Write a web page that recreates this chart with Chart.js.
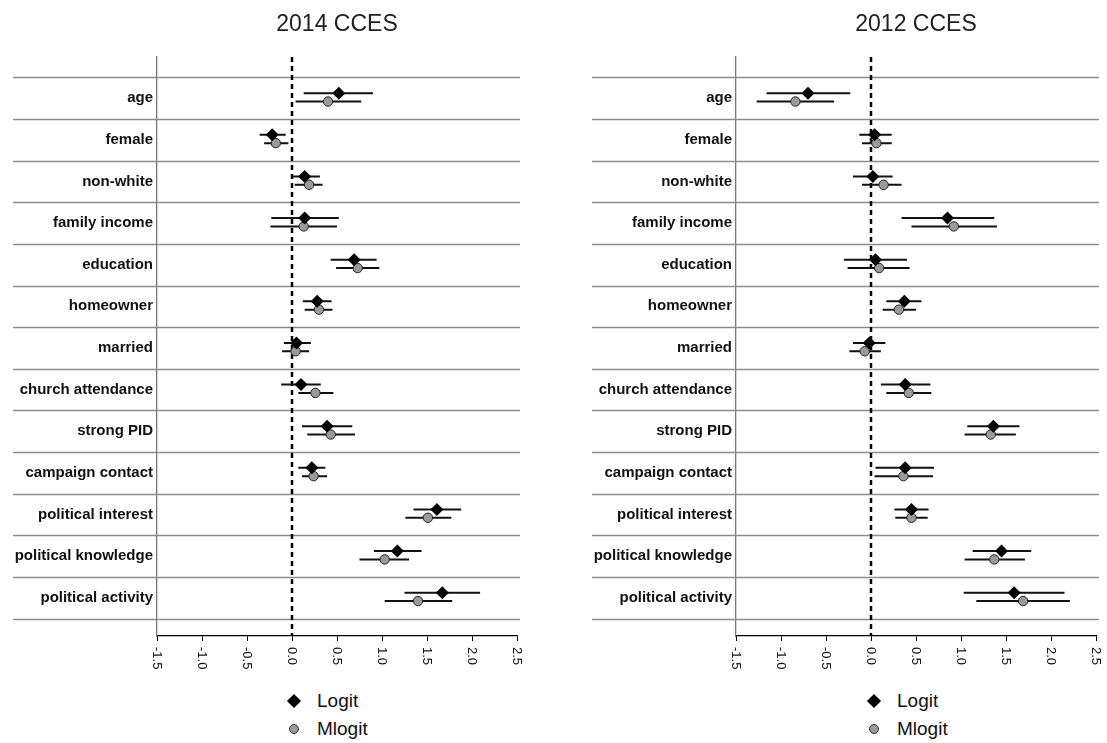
<!DOCTYPE html>
<html>
<head>
<meta charset="utf-8">
<script src="https://cdn.jsdelivr.net/npm/chart.js@4.4.0/dist/chart.umd.min.js"></script>
<style>
  body { margin: 0; width: 1107px; height: 743px; overflow: hidden; background: #fff; font-family: "Liberation Sans", Arial, sans-serif; position: relative; }
  .panel { position: absolute; top: 0; width: 579px; height: 690px; }
  .legend { position: absolute; font-size: 19px; color: #111; line-height: 20px; }
  .legend .row { position: absolute; left: 0; white-space: nowrap; }
  .legend .txt { position: absolute; left: 23px; top: 0; }
  .diamond { position: absolute; width: 10px; height: 10px; background: #000; transform: rotate(45deg); left: -5px; top: 5px; }
  .dot { position: absolute; width: 8px; height: 8px; background: #9a9a9a; border: 1px solid #333; border-radius: 50%; left: -5px; top: 5px; }
</style>
</head>
<body>
<div class="panel" style="left:0"><canvas id="chart2014" width="579" height="690"></canvas></div>
<div class="panel" style="left:579px"><canvas id="chart2012" width="579" height="690"></canvas></div>

<div class="legend" style="left:294px; top:691px">
  <div class="row" style="top:0"><span class="diamond"></span><span class="txt">Logit</span></div>
  <div class="row" style="top:28px"><span class="dot"></span><span class="txt">Mlogit</span></div>
</div>
<div class="legend" style="left:874px; top:691px">
  <div class="row" style="top:0"><span class="diamond"></span><span class="txt">Logit</span></div>
  <div class="row" style="top:28px"><span class="dot"></span><span class="txt">Mlogit</span></div>
</div>

<script>
var categories = ["age", "female", "non-white", "family income", "education", "homeowner", "married",
  "church attendance", "strong PID", "campaign contact", "political interest", "political knowledge", "political activity"];
var xTicks = [-1.5, -1.0, -0.5, 0.0, 0.5, 1.0, 1.5, 2.0, 2.5];

// 2014 CCES
var logit2014 = [0.52, -0.22, 0.14, 0.14, 0.69, 0.28, 0.05, 0.10, 0.39, 0.22, 1.61, 1.17, 1.67];
var logitLo2014 = [0.13, -0.36, 0.00, -0.23, 0.43, 0.12, -0.09, -0.12, 0.11, 0.07, 1.35, 0.91, 1.25];
var logitHi2014 = [0.90, -0.07, 0.31, 0.52, 0.94, 0.44, 0.21, 0.32, 0.67, 0.37, 1.88, 1.44, 2.09];
var mlogit2014 = [0.40, -0.18, 0.19, 0.13, 0.73, 0.30, 0.04, 0.26, 0.43, 0.24, 1.51, 1.03, 1.40];
var mlogitLo2014 = [0.04, -0.31, 0.03, -0.24, 0.49, 0.14, -0.11, 0.07, 0.17, 0.11, 1.26, 0.75, 1.03];
var mlogitHi2014 = [0.77, -0.04, 0.34, 0.50, 0.97, 0.45, 0.19, 0.46, 0.70, 0.39, 1.77, 1.30, 1.78];

// 2012 CCES
var logit2012 = [-0.70, 0.04, 0.02, 0.85, 0.05, 0.37, -0.02, 0.38, 1.36, 0.38, 0.45, 1.45, 1.59];
var logitLo2012 = [-1.16, -0.13, -0.20, 0.34, -0.30, 0.17, -0.20, 0.11, 1.07, 0.05, 0.26, 1.13, 1.03];
var logitHi2012 = [-0.23, 0.23, 0.24, 1.37, 0.40, 0.56, 0.16, 0.66, 1.65, 0.70, 0.64, 1.78, 2.15];
var mlogit2012 = [-0.84, 0.06, 0.14, 0.92, 0.09, 0.31, -0.07, 0.42, 1.33, 0.36, 0.45, 1.37, 1.69];
var mlogitLo2012 = [-1.27, -0.10, -0.10, 0.45, -0.26, 0.13, -0.24, 0.17, 1.04, 0.04, 0.27, 1.04, 1.17];
var mlogitHi2012 = [-0.41, 0.23, 0.34, 1.40, 0.43, 0.50, 0.11, 0.67, 1.61, 0.69, 0.63, 1.71, 2.21];

var Y_MIN = -0.99, Y_MAX = 12.92;
var LOGIT_SHIFT = -0.12, MLOGIT_SHIFT = 0.08;

// horizontal separators between rows, running out under the labels
var rowLines = {
  id: "rowLines",
  beforeDatasetsDraw(chart) {
    const ctx = chart.ctx, y = chart.scales.y, area = chart.chartArea;
    ctx.save();
    ctx.strokeStyle = "#8c8c8c";
    ctx.lineWidth = 1.3;
    for (let i = 0; i <= categories.length; i++) {
      const py = Math.round(y.getPixelForValue(i - 0.5)) + 0.5;
      ctx.beginPath();
      ctx.moveTo(13, py);
      ctx.lineTo(area.right + 3, py);
      ctx.stroke();
    }
    ctx.restore();
  }
};

// x tick labels turned clockwise (reading top to bottom)
var xLabels = {
  id: "xLabels",
  afterDraw(chart) {
    const ctx = chart.ctx, x = chart.scales.x, area = chart.chartArea;
    ctx.save();
    ctx.font = "13px 'Liberation Sans', Arial, sans-serif";
    ctx.fillStyle = "#111";
    ctx.textAlign = "left";
    ctx.textBaseline = "middle";
    xTicks.forEach((t) => {
      ctx.save();
      ctx.translate(x.getPixelForValue(t), area.bottom + 11);
      ctx.rotate(Math.PI / 2);
      ctx.fillText(t.toFixed(1), 0, 0);
      ctx.restore();
    });
    ctx.restore();
  }
};

function barData(lo, hi, shift) {
  const pts = [];
  lo.forEach((v, i) => {
    pts.push({ x: v, y: i + shift });
    pts.push({ x: hi[i], y: i + shift });
    pts.push({ x: null, y: null });
  });
  return pts;
}

function pointData(est, shift) {
  return est.map((v, i) => ({ x: v, y: i + shift }));
}

function makePanel(id, title, logit, logitLo, logitHi, mlogit, mlogitLo, mlogitHi) {
  var ctx = document.getElementById(id).getContext("2d");
  return new Chart(ctx, {
    type: "line",
    data: {
      datasets: [
        {
          label: "Logit",
          data: pointData(logit, LOGIT_SHIFT),
          showLine: false,
          pointStyle: "rectRot",
          pointRadius: 6.5,
          pointBackgroundColor: "#000",
          pointBorderColor: "#000",
          pointBorderWidth: 0,
          order: 0
        },
        {
          label: "Mlogit",
          data: pointData(mlogit, MLOGIT_SHIFT),
          showLine: false,
          pointStyle: "circle",
          pointRadius: 4.7,
          pointBackgroundColor: "#9a9a9a",
          pointBorderColor: "#222",
          pointBorderWidth: 1,
          order: 1
        },
        {
          label: "Logit CI",
          data: barData(logitLo, logitHi, LOGIT_SHIFT),
          borderColor: "#111",
          borderWidth: 2,
          pointRadius: 0,
          spanGaps: false,
          order: 2
        },
        {
          label: "Mlogit CI",
          data: barData(mlogitLo, mlogitHi, MLOGIT_SHIFT),
          borderColor: "#111",
          borderWidth: 2,
          pointRadius: 0,
          spanGaps: false,
          order: 3
        },
        {
          label: "zero",
          data: [{ x: 0, y: Y_MIN }, { x: 0, y: Y_MAX }],
          borderColor: "#000",
          borderWidth: 2.5,
          borderDash: [5, 4],
          pointRadius: 0,
          order: 4
        }
      ]
    },
    options: {
      responsive: false,
      animation: false,
      devicePixelRatio: 1,
      layout: { padding: { left: 0, right: 62, top: 0, bottom: 0 } },
      plugins: {
        legend: { display: false },
        tooltip: { enabled: false },
        title: {
          display: true,
          fullSize: false,
          text: title,
          color: "#222",
          font: { family: "'Liberation Sans', Arial, sans-serif", size: 23, weight: "normal", lineHeight: 1.2 },
          padding: { top: 11, bottom: 18.4 }
        }
      },
      scales: {
        x: {
          type: "linear",
          min: -1.5,
          max: 2.5,
          afterBuildTicks: (s) => { s.ticks = xTicks.map((v) => ({ value: v })); },
          afterFit: (s) => { s.height = 54; },
          ticks: { display: false },
          grid: { drawOnChartArea: false, drawTicks: true, tickLength: 5, color: "#000", lineWidth: 1 },
          border: { display: true, color: "#000", width: 1.3 }
        },
        y: {
          type: "linear",
          reverse: true,
          min: Y_MIN,
          max: Y_MAX,
          afterBuildTicks: (s) => { s.ticks = categories.map((c, i) => ({ value: i })); },
          afterFit: (s) => { s.width = 157; },
          ticks: {
            padding: 4,
            color: "#111",
            font: { family: "'Liberation Sans', Arial, sans-serif", size: 15, weight: "bold" },
            callback: (v) => categories[v]
          },
          grid: { drawOnChartArea: false, drawTicks: false },
          border: { display: true, color: "#777", width: 1.3 }
        }
      }
    },
    plugins: [rowLines, xLabels]
  });
}

makePanel("chart2014", "2014 CCES", logit2014, logitLo2014, logitHi2014, mlogit2014, mlogitLo2014, mlogitHi2014);
makePanel("chart2012", "2012 CCES", logit2012, logitLo2012, logitHi2012, mlogit2012, mlogitLo2012, mlogitHi2012);
</script>
</body>
</html>
